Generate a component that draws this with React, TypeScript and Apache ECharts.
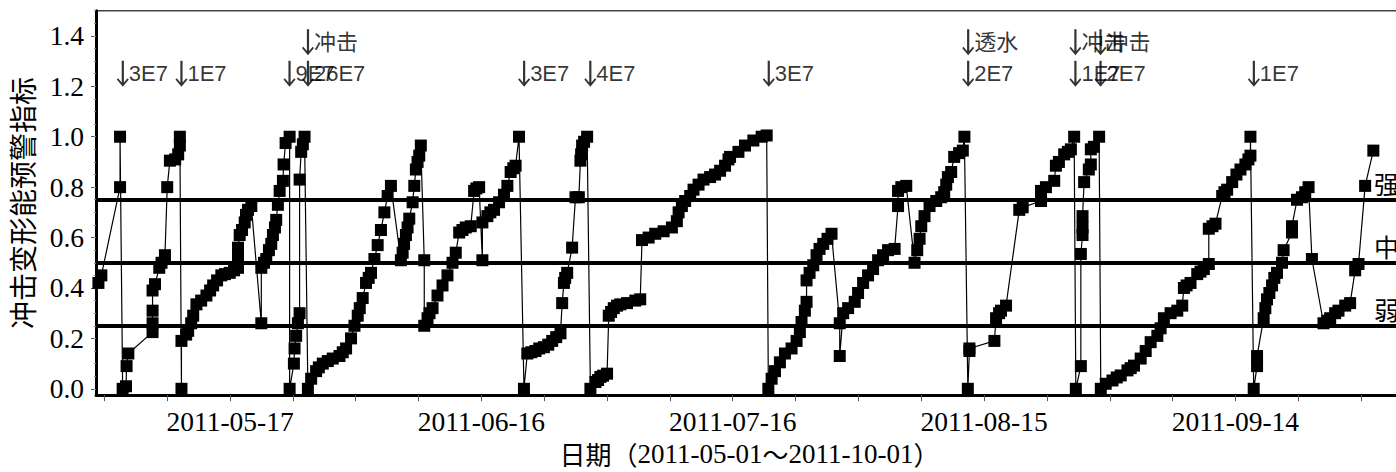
import React, { useEffect, useRef } from 'react';
import * as echarts from 'echarts';

// days since 2011-05-01 00:00
const dayOffsets = [
  0.29, 0.64, 2.87, 2.87, 3.18, 3.58, 3.65, 3.86, 6.75, 6.75, 6.75, 6.75, 7.04, 7.55, 7.82, 8.23, 8.5, 8.82, 9.45, 9.81, 10.01, 10.01,
  10.2, 10.2, 10.76, 11.0, 11.36, 11.6, 11.99, 12.55, 13.18, 13.62, 13.98, 14.45, 14.96, 15.4, 15.96, 16.48, 16.95, 16.95, 16.95, 17.15,
  17.43, 17.75, 17.9, 18.14, 18.54, 19.73, 19.73, 20.05, 20.32, 20.64, 20.92, 21.12, 21.36, 21.51, 21.71, 21.92, 22.31, 22.39, 22.63, 23.11,
  23.11, 23.62, 23.7, 23.89, 24.1, 24.3, 24.3, 24.49, 24.69, 24.89, 25.29, 25.68, 26.27, 26.6, 27.07, 27.67, 28.26, 29.06, 29.45, 29.85,
  30.44, 30.85, 31.24, 31.48, 31.83, 32.23, 32.55, 32.82, 33.23, 33.62, 34.01, 34.42, 34.81, 35.2, 36.39, 36.6, 36.77, 36.99, 37.19, 37.39,
  37.79, 37.99, 38.18, 38.38, 38.58, 38.77, 39.18, 39.18, 39.57, 39.81, 40.17, 40.76, 41.36, 41.95, 42.55, 42.94, 43.35, 43.74, 44.13, 44.73,
  45.13, 45.4, 45.73, 46.12, 46.12, 46.71, 47.07, 47.51, 48.11, 48.7, 49.1, 49.49, 49.81, 50.08, 50.49, 51.08, 51.48, 51.95, 52.46, 52.9,
  53.46, 53.98, 54.45, 54.93, 55.44, 55.64, 55.85, 56.0, 56.24, 56.83, 57.23, 57.63, 57.82, 57.9, 58.02, 58.26, 58.62, 59.01, 59.61, 59.93,
  60.2, 60.52, 61.0, 61.2, 61.48, 61.8, 62.19, 62.58, 63.38, 64.37, 64.96, 65.17, 65.96, 66.75, 67.75, 68.74, 69.33, 69.54, 69.93, 70.32,
  70.92, 71.32, 71.92, 72.51, 73.3, 73.89, 74.49, 75.08, 75.49, 75.68, 76.68, 77.46, 78.46, 79.45, 80.05, 80.25, 80.64, 81.04, 81.63, 82.23,
  83.02, 83.62, 84.01, 84.21, 84.61, 84.81, 84.81, 85.17, 85.61, 86.0, 86.36, 86.8, 87.31, 87.79, 88.77, 88.77, 89.18, 89.77, 90.56, 90.96,
  91.56, 92.15, 92.75, 93.35, 93.94, 94.54, 95.32, 95.73, 95.73, 96.12, 96.71, 97.7, 98.02, 98.3, 98.5, 98.89, 99.49, 100.29, 100.88, 101.24,
  101.48, 101.68, 102.07, 102.43, 103.02, 103.46, 103.65, 104.06, 104.25, 104.25, 107.23, 107.43, 107.79, 108.02, 108.62, 110.2, 110.61, 112.79, 112.79, 113.38,
  114.37, 114.57, 114.93, 115.56, 116.0, 116.36, 116.75, 116.95, 117.55, 117.55, 117.75, 117.75, 117.75, 117.94, 118.5, 118.74, 118.74, 119.1, 119.73, 119.93,
  120.52, 121.32, 121.83, 122.31, 123.11, 123.5, 123.89, 124.69, 125.29, 125.88, 126.68, 127.07, 127.46, 128.26, 129.06, 129.65, 129.85, 130.17, 130.64, 131.44,
  131.83, 132.23, 132.82, 132.82, 133.26, 133.62, 134.42, 134.69, 135.01, 135.61, 136.12, 136.6, 137.19, 137.55, 137.79, 137.79, 138.18, 138.58, 138.58, 139.37,
  139.57, 139.77, 140.05, 140.37, 140.64, 140.96, 141.56, 141.75, 142.75, 142.75, 143.35, 143.94, 144.33, 144.73, 145.13, 146.51, 146.95, 147.31, 147.9, 148.3,
  149.1, 149.69, 150.29, 150.69, 151.48, 152.46,
];

const indexValues = [
  0.42, 0.45, 0.8, 1.0, 0.0, 0.01, 0.09, 0.14, 0.225, 0.26, 0.31, 0.39, 0.415, 0.48, 0.5, 0.53, 0.8, 0.905, 0.91, 0.93, 0.965, 1.0,
  0.0, 0.19, 0.215, 0.23, 0.26, 0.29, 0.335, 0.35, 0.37, 0.39, 0.41, 0.43, 0.45, 0.455, 0.46, 0.47, 0.48, 0.52, 0.56, 0.61,
  0.63, 0.66, 0.69, 0.71, 0.725, 0.26, 0.48, 0.5, 0.515, 0.55, 0.575, 0.61, 0.64, 0.67, 0.73, 0.785, 0.825, 0.89, 0.975, 1.0,
  0.0, 0.1, 0.16, 0.21, 0.26, 0.3, 0.83, 0.94, 0.97, 1.0, 0.0, 0.04, 0.07, 0.085, 0.1, 0.11, 0.12, 0.13, 0.145, 0.16,
  0.2, 0.25, 0.29, 0.32, 0.36, 0.42, 0.44, 0.46, 0.515, 0.57, 0.63, 0.7, 0.765, 0.805, 0.51, 0.54, 0.575, 0.61, 0.64, 0.675,
  0.74, 0.805, 0.87, 0.9, 0.925, 0.965, 0.51, 0.25, 0.28, 0.3, 0.32, 0.37, 0.41, 0.45, 0.5, 0.54, 0.62, 0.63, 0.64, 0.645,
  0.785, 0.795, 0.8, 0.51, 0.66, 0.685, 0.7, 0.71, 0.74, 0.77, 0.805, 0.86, 0.875, 0.885, 1.0, 0.0, 0.14, 0.145, 0.15, 0.16,
  0.165, 0.175, 0.19, 0.205, 0.22, 0.34, 0.42, 0.44, 0.46, 0.56, 0.76, 0.76, 0.905, 0.93, 0.965, 0.98, 1.0, 0.0, 0.027, 0.035,
  0.047, 0.052, 0.06, 0.29, 0.305, 0.32, 0.33, 0.335, 0.34, 0.35, 0.355, 0.59, 0.6, 0.615, 0.625, 0.64, 0.665, 0.7, 0.725, 0.745,
  0.765, 0.79, 0.81, 0.83, 0.84, 0.85, 0.865, 0.885, 0.91, 0.92, 0.94, 0.965, 0.985, 1.0, 1.005, 0.0, 0.04, 0.07, 0.105, 0.14,
  0.16, 0.19, 0.225, 0.265, 0.31, 0.345, 0.43, 0.46, 0.49, 0.53, 0.555, 0.575, 0.595, 0.615, 0.26, 0.13, 0.3, 0.32, 0.345, 0.38,
  0.42, 0.45, 0.475, 0.51, 0.53, 0.55, 0.555, 0.725, 0.785, 0.8, 0.805, 0.5, 0.55, 0.595, 0.645, 0.685, 0.725, 0.745, 0.76, 0.78,
  0.81, 0.84, 0.86, 0.92, 0.935, 0.945, 1.0, 0.0, 0.15, 0.16, 0.19, 0.28, 0.3, 0.31, 0.33, 0.71, 0.72, 0.745, 0.785, 0.8,
  0.825, 0.885, 0.9, 0.93, 0.94, 0.95, 1.0, 0.0, 0.09, 0.535, 0.61, 0.64, 0.685, 0.82, 0.87, 0.89, 0.95, 0.96, 1.0, 0.0,
  0.02, 0.033, 0.045, 0.053, 0.073, 0.082, 0.092, 0.12, 0.15, 0.185, 0.21, 0.24, 0.28, 0.3, 0.31, 0.33, 0.4, 0.41, 0.42, 0.455,
  0.465, 0.475, 0.495, 0.635, 0.645, 0.655, 0.765, 0.78, 0.79, 0.82, 0.85, 0.87, 0.89, 0.91, 0.925, 1.0, 0.0, 0.09, 0.13, 0.28,
  0.32, 0.355, 0.38, 0.41, 0.44, 0.46, 0.5, 0.55, 0.62, 0.645, 0.75, 0.76, 0.78, 0.8, 0.515, 0.26, 0.27, 0.28, 0.3, 0.31,
  0.33, 0.34, 0.47, 0.495, 0.805, 0.945,
];

// warning levels
const levelValues = [0.75, 0.5, 0.25];
const levelNames = ['强', '中', '弱'];

// event annotations (two rows)
const eventRowLevels = [1.25, 1.375];
const energyEventDays = [3.2, 10.2, 23.1, 25.3, 51.1, 59.0, 80.3, 104.1, 116.9, 119.9, 138.2];
const energyEventLabels = ['3E7', '1E7', '9E7', '26E7', '3E7', '4E7', '3E7', '2E7', '1E7', '2E7', '1E7'];
const typeEventDays = [25.3, 104.1, 116.9, 119.9];
const typeEventLabels = ['冲击', '透水', '冲击', '冲击'];

// axes
const xLabelDays = [16, 46, 76, 106, 136];
const xTickDays = [1, 8.5, 16, 23.5, 31, 38.5, 46, 53.5, 61, 68.5, 76, 83.5, 91, 98.5, 106, 113.5, 121, 128.5, 136, 143.5, 151];
const yTickValues = [0, 0.2, 0.4, 0.6, 0.8, 1.0, 1.2, 1.4];
const yMinorTicks: number[] = [];
for (let i = 0; i <= 30; i++) yMinorTicks.push(Math.round(i * 5) / 100);

const xAxisName = '{a|日期（}{b|2011-05-01}{a|～}{b|2011-10-01}{a|）}';
const yAxisName = '冲击变形能预警指标';

const START = Date.UTC(2011, 4, 1);
function dayToDate(d: number): string {
  const t = new Date(START + Math.round(d) * 86400000);
  const m = String(t.getUTCMonth() + 1).padStart(2, '0');
  const dd = String(t.getUTCDate()).padStart(2, '0');
  return `${t.getUTCFullYear()}-${m}-${dd}`;
}

const ARROW = 'path://M4.9 0 H7.1 V21.5 L10.7 17.2 L12 18.4 L6 25.6 L0 18.4 L1.3 17.2 L4.9 21.5 Z';
const SERIF = '"Liberation Serif", "Times New Roman", serif';
const SANS = '"Liberation Sans", Arial, "Noto Sans CJK SC", sans-serif';
const CJK = '"Noto Sans CJK SC", sans-serif';

export default function App() {
  const ref = useRef<HTMLDivElement>(null);
  useEffect(() => {
    if (!ref.current) return;
    document.body.style.overflow = 'hidden';
    const chart = echarts.init(ref.current, undefined, { renderer: 'svg' });
    const mainData = dayOffsets.map((d, i) => [d, indexValues[i]]);
    const eventSeries = (days: number[], labels: string[], level: number, name: string) => ({
      name,
      type: 'scatter',
      symbol: ARROW,
      symbolSize: [12, 26],
      itemStyle: { color: '#000' },
      silent: true,
      z: 5,
      data: days.map((d, i) => ({ value: [d, level], name: labels[i] })),
      label: {
        show: true,
        position: 'right',
        distance: 0,
        formatter: '{b}',
        color: '#000',
        fontFamily: SANS,
        fontSize: 22,
      },
    });
    chart.setOption({
      animation: false,
      grid: { left: 92.6, top: 10.7, right: 17, bottom: 75.7, show: true, borderColor: '#444', borderWidth: 1.5 },
      xAxis: {
        type: 'value',
        min: 0,
        max: 156,
        name: xAxisName,
        nameLocation: 'middle',
        nameGap: 40,
        nameTextStyle: {
          rich: {
            a: { fontFamily: CJK, fontSize: 26, color: '#000' },
            b: { fontFamily: SERIF, fontSize: 27, color: '#000' },
          },
        },
        axisLine: { onZero: false, lineStyle: { color: '#000', width: 3 } },
        splitLine: { show: false },
        axisTick: { customValues: xTickDays, length: 6, lineStyle: { color: '#555', width: 1 } },
        axisLabel: {
          customValues: xLabelDays,
          formatter: (v: number) => dayToDate(v),
          fontFamily: SERIF,
          fontSize: 27.5,
          color: '#000',
          margin: 12,
          hideOverlap: false,
        },
      },
      yAxis: [
        {
          type: 'value',
          min: -0.025,
          max: 1.5,
          name: yAxisName,
          nameLocation: 'middle',
          nameGap: 60,
          nameTextStyle: { fontFamily: CJK, fontSize: 28, color: '#000' },
          axisLine: { show: true, lineStyle: { color: '#000', width: 3 } },
          splitLine: { show: false },
          axisTick: { customValues: yTickValues, length: 5, lineStyle: { color: '#555', width: 1 } },
          axisLabel: {
            customValues: yTickValues,
            formatter: (v: number) => v.toFixed(1),
            fontFamily: SERIF,
            fontSize: 27.5,
            color: '#000',
            margin: 12,
          },
        },
        {
          type: 'value',
          min: -0.025,
          max: 1.5,
          position: 'left',
          axisLine: { show: false },
          splitLine: { show: false },
          axisLabel: { show: false },
          axisTick: { customValues: yMinorTicks, length: 2, lineStyle: { color: '#888', width: 1 } },
        },
      ],
      series: [
        {
          name: 'index',
          type: 'line',
          data: mainData,
          symbol: 'rect',
          symbolSize: 12,
          showAllSymbol: true,
          itemStyle: { color: '#000' },
          lineStyle: { color: '#000', width: 1.2 },
          z: 3,
          markLine: {
            silent: true,
            symbol: 'none',
            lineStyle: { color: '#000', width: 4, type: 'solid' },
            label: {
              show: true,
              position: 'insideEndTop',
              formatter: '{b}',
              color: '#000',
              fontFamily: CJK,
              fontSize: 25,
              distance: 4,
            },
            data: levelValues.map((v, i) => ({ name: levelNames[i], yAxis: v })),
          },
        },
        eventSeries(energyEventDays, energyEventLabels, eventRowLevels[0], 'energy'),
        eventSeries(typeEventDays, typeEventLabels, eventRowLevels[1], 'type'),
      ],
    });
    return () => chart.dispose();
  }, []);
  return (
    <div
      ref={ref}
      style={{ position: 'fixed', left: 0, top: 0, width: 1420, height: 472, background: '#fff' }}
    />
  );
}
